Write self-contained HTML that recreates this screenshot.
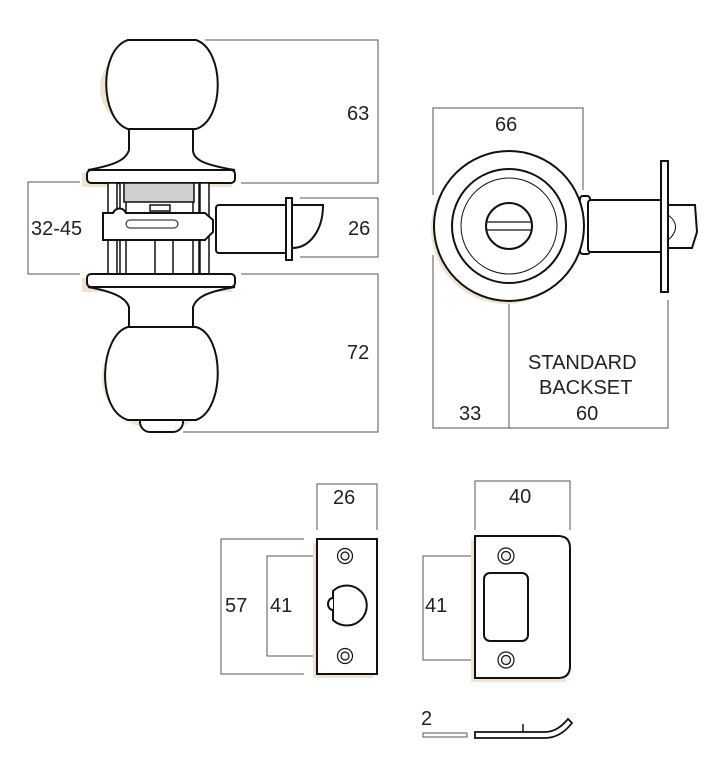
<!DOCTYPE html>
<html><head><style>body{margin:0;background:#fff}svg{display:block}</style></head><body>
<svg width="724" height="763" viewBox="0 0 724 763" xmlns="http://www.w3.org/2000/svg" font-family="Liberation Sans, sans-serif" font-size="20" fill="none">
<g stroke="#555" stroke-width="1">
<polyline points="205,40 378,40 378,183 241,183"/>
<polyline points="241,274 378,274 378,432 183,432"/>
<polyline points="80,182 28,182 28,274 80,274"/>
<polyline points="300,198 378,198 378,257 300,257"/>
<polyline points="433,195 433,108 583,108 583,190"/>
<polyline points="433,255 433,428 668,428 668,300"/>
<line x1="509" y1="258" x2="509" y2="428"/>
<polyline points="317,530 317,484 377,484 377,530"/>
<polyline points="304,539 221,539 221,674 304,674"/>
<polyline points="340,556 267,556 267,656 340,656"/>
<polyline points="475,530 475,481 570,481 570,530"/>
<polyline points="500,556 423,556 423,660 500,660"/>
<rect x="423" y="733" width="44" height="4"/>
</g>
<g fill="#efe3d0">
<ellipse cx="158" cy="88" rx="58" ry="47"/>
<ellipse cx="160" cy="378" rx="58" ry="52"/>
<rect x="82" y="173" width="150" height="14"/>
<rect x="82" y="278" width="150" height="14"/>
<circle cx="506" cy="229" r="75"/>
<rect x="313" y="543" width="60" height="135"/>
<rect x="471" y="540" width="95" height="142"/>
</g>
<g stroke="#111" stroke-width="2" fill="#fff">
<path d="M128,129 C100,120 98,50 128,40 L196,40 C225,50 225,120 196,129 Z"/>
<path d="M129,129 L129,150 C126,160 115,165 88,170 L235,170 C205,165 193,160 193,150 L193,129 Z"/>
<rect x="87" y="170" width="148" height="13" rx="4"/>
<g stroke-width="1.5">
<rect x="108" y="183" width="9" height="91"/>
<rect x="200" y="183" width="9" height="91"/>
<rect x="120" y="183" width="6" height="91"/>
<rect x="193" y="183" width="6" height="91"/>
<rect x="124" y="183" width="70" height="19" fill="#cfcfcf"/>
<rect x="150" y="205" width="20" height="6"/>
<rect x="155" y="240" width="18" height="34"/>
</g>
<path d="M103,213 L113,213 C116,207 123,207 126,213 L205,213 L213,220 L213,232 L205,240 L103,240 Z"/>
<rect x="126" y="220" width="52" height="8" rx="4" stroke-width="1"/>
<rect x="216" y="205" width="72" height="48" rx="3"/>
<path d="M292,205 L323,205 C323,230 310,248 292,248 Z"/>
<rect x="286" y="198" width="6" height="62"/>
<rect x="87" y="274" width="148" height="13" rx="4"/>
<path d="M88,287 C115,292 126,298 129,307 L129,327 L193,327 L193,307 C196,298 205,292 235,287 Z"/>
<rect x="140" y="410" width="43" height="22" rx="10"/>
<path d="M128,327 C100,335 95,410 128,420 L196,420 C225,410 225,335 196,327 Z"/>
<rect x="580" y="196" width="10" height="58" rx="3"/>
<circle cx="509" cy="226" r="75"/>
<circle cx="509" cy="226" r="57"/>
<circle cx="509" cy="226" r="48" stroke-width="1"/>
<circle cx="509" cy="226" r="23"/>
<line x1="487" y1="222" x2="531" y2="222" stroke-width="1.2"/>
<line x1="487" y1="230" x2="531" y2="230" stroke-width="1.2"/>
<rect x="588" y="200" width="74" height="52" rx="3"/>
<path d="M668,205 L695,205 L697,232 L692,248 L668,248 Z"/>
<path d="M668,215 C678,222 678,232 668,240" stroke-width="1"/>
<rect x="661" y="161" width="7" height="131"/>
<rect x="317" y="539" width="60" height="135"/>
<path d="M333,591 A20,20 0 1 1 333,620 Z"/>
<path d="M333,598 a5,6 0 0 0 0,12" />
<path d="M475,536 L558,536 Q570,536 570,548 L570,666 Q570,678 558,678 L475,678 Z"/>
<rect x="484" y="573" width="44" height="68" rx="6"/>
<path d="M475,737 L475,732 L545,732 C555,732 562,726 568,719 L572,723 C565,732 556,738 545,738 L475,738 Z" stroke-width="1.8"/>
<line x1="523" y1="724" x2="523" y2="732" stroke-width="1.5"/>
</g>
<g stroke="#111" stroke-width="1.2" fill="#fff">
<circle cx="345" cy="556" r="7.5"/><circle cx="345" cy="556" r="4" fill="#eee"/>
<circle cx="345" cy="656" r="7.5"/><circle cx="345" cy="656" r="4" fill="#eee"/>
<circle cx="506" cy="556" r="8"/><circle cx="506" cy="556" r="4.5" fill="#eee"/>
<circle cx="506" cy="660" r="8"/><circle cx="506" cy="660" r="4.5" fill="#eee"/>
</g>
<g fill="#222">
<text x="347" y="120">63</text>
<text x="347" y="359">72</text>
<text x="348" y="235">26</text>
<text x="31" y="235">32-45</text>
<text x="495" y="131">66</text>
<text x="528" y="369">STANDARD</text>
<text x="539" y="394">BACKSET</text>
<text x="459" y="420">33</text>
<text x="576" y="420">60</text>
<text x="333" y="504">26</text>
<text x="509" y="503">40</text>
<text x="225" y="612">57</text>
<text x="270" y="612">41</text>
<text x="425" y="612">41</text>
<text x="421" y="725">2</text>
</g>
</svg>
</body></html>
